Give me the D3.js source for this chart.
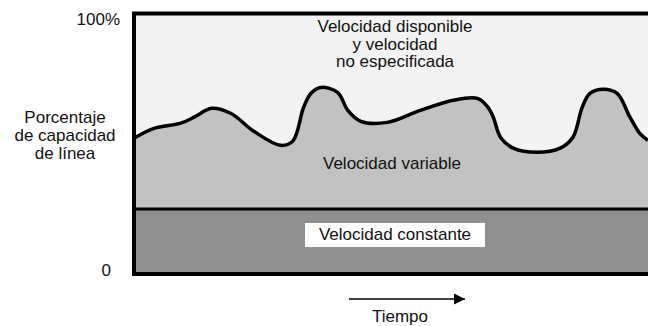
<!DOCTYPE html>
<html>
<head>
<meta charset="utf-8">
<script src="https://cdn.jsdelivr.net/npm/d3@7"></script>
<style>
  body { margin: 0; background: #fff; }
  text { font-family: "Liberation Sans", Arial, sans-serif; fill: #111; }
</style>
</head>
<body>
<script>
var width = 648,
    height = 326;

// time (0-100) vs. percentage of line capacity
var timeSteps = [0, 3.9, 9.1, 11.7, 15.1, 18.8, 23.3, 28.5, 30.9, 33.0, 34.4, 36.3, 39.6, 41.6, 44.1,
                 49.3, 55.7, 62.1, 66.8, 68.7, 69.9, 71.3, 73.8, 78.4, 82.9, 85.4, 87.2, 88.7,
                 91.3, 94.0, 96.5, 98.4, 100];
var variableRate = [52.1, 55.9, 57.9, 60.2, 63.6, 61.7, 54.8, 49.4, 51.0, 64.0, 69.3, 71.6, 69.7, 62.8, 58.6,
                    58.2, 62.8, 66.7, 67.4, 64.4, 60.2, 52.5, 48.3, 46.7, 48.3, 52.5, 64.0, 69.3,
                    70.9, 69.3, 60.2, 54.0, 51.3];
var constantRate = 25;
var yTickLabels = ["0", "100%"];
var yTitle = ["Porcentaje", "de capacidad", "de línea"];
var topLabel = ["Velocidad disponible", "y velocidad", "no especificada"];

var svg = d3.select("body").append("svg")
    .attr("width", width)
    .attr("height", height);

var x = d3.scaleLinear().domain([0, 100]).range([134, 648]),
    y = d3.scaleLinear().domain([0, 100]).range([274, 13.5]);

var pts = timeSteps.map(function(t, i) { return [t, variableRate[i]]; });

// available / unspecified rate (whole box background)
svg.append("rect")
    .attr("x", x(0)).attr("y", y(100))
    .attr("width", x(100) + 10 - x(0)).attr("height", y(0) - y(100))
    .attr("fill", "#f3f3f3");

// variable rate area
var area = d3.area()
    .x(function(d) { return x(d[0]); })
    .y0(y(constantRate))
    .y1(function(d) { return y(d[1]); })
    .curve(d3.curveCatmullRom.alpha(0.5));

svg.append("path")
    .datum(pts)
    .attr("d", area)
    .attr("fill", "#c2c2c2");

// constant rate band
svg.append("rect")
    .attr("x", x(0)).attr("y", y(constantRate))
    .attr("width", x(100) + 10 - x(0)).attr("height", y(0) - y(constantRate))
    .attr("fill", "#8f8f8f");

// curve outline
var line = d3.line()
    .x(function(d) { return x(d[0]); })
    .y(function(d) { return y(d[1]); })
    .curve(d3.curveCatmullRom.alpha(0.5));

svg.append("path")
    .datum(pts)
    .attr("d", line)
    .attr("fill", "none")
    .attr("stroke", "#000")
    .attr("stroke-width", 3.5);

svg.append("line")
    .attr("x1", x(0)).attr("x2", x(100) + 10)
    .attr("y1", y(constantRate)).attr("y2", y(constantRate))
    .attr("stroke", "#000").attr("stroke-width", 3);

// frame
svg.append("rect")
    .attr("x", x(0)).attr("y", y(100))
    .attr("width", x(100) + 10 - x(0)).attr("height", y(0) - y(100))
    .attr("fill", "none")
    .attr("stroke", "#000")
    .attr("stroke-width", 4);

// y labels
svg.append("text").attr("x", 120).attr("y", 25).attr("text-anchor", "end")
    .style("font-size", "17px").text(yTickLabels[1]);
svg.append("text").attr("x", 111).attr("y", 276).attr("text-anchor", "end")
    .style("font-size", "17px").text(yTickLabels[0]);

svg.append("text").attr("text-anchor", "middle").style("font-size", "17px")
    .selectAll("tspan").data(yTitle).enter().append("tspan")
    .attr("x", 65).attr("y", function(d, i) { return 123 + i * 18; })
    .text(function(d) { return d; });

// region labels
svg.append("text").attr("text-anchor", "middle").style("font-size", "17px")
    .selectAll("tspan").data(topLabel).enter().append("tspan")
    .attr("x", 395).attr("y", function(d, i) { return 32 + i * 17.5; })
    .text(function(d) { return d; });

svg.append("text").attr("x", 392).attr("y", 169).attr("text-anchor", "middle")
    .style("font-size", "17px").text("Velocidad variable");

svg.append("rect")
    .attr("x", 305).attr("y", 223).attr("width", 180).attr("height", 24)
    .attr("fill", "#fff");
svg.append("text").attr("x", 395).attr("y", 240).attr("text-anchor", "middle")
    .style("font-size", "17px").text("Velocidad constante");

// time arrow
svg.append("defs").append("marker")
    .attr("id", "arrow")
    .attr("viewBox", "0 0 10 10")
    .attr("refX", 10).attr("refY", 5)
    .attr("markerWidth", 11).attr("markerHeight", 12)
    .attr("markerUnits", "userSpaceOnUse")
    .attr("orient", "auto")
    .append("path").attr("d", "M0,0L10,5L0,10Z").attr("fill", "#000");

svg.append("line")
    .attr("x1", 349).attr("x2", 465)
    .attr("y1", 299).attr("y2", 299)
    .attr("stroke", "#000").attr("stroke-width", 1.5)
    .attr("marker-end", "url(#arrow)");

svg.append("text").attr("x", 400).attr("y", 322).attr("text-anchor", "middle")
    .style("font-size", "17px").text("Tiempo");
</script>
</body>
</html>
